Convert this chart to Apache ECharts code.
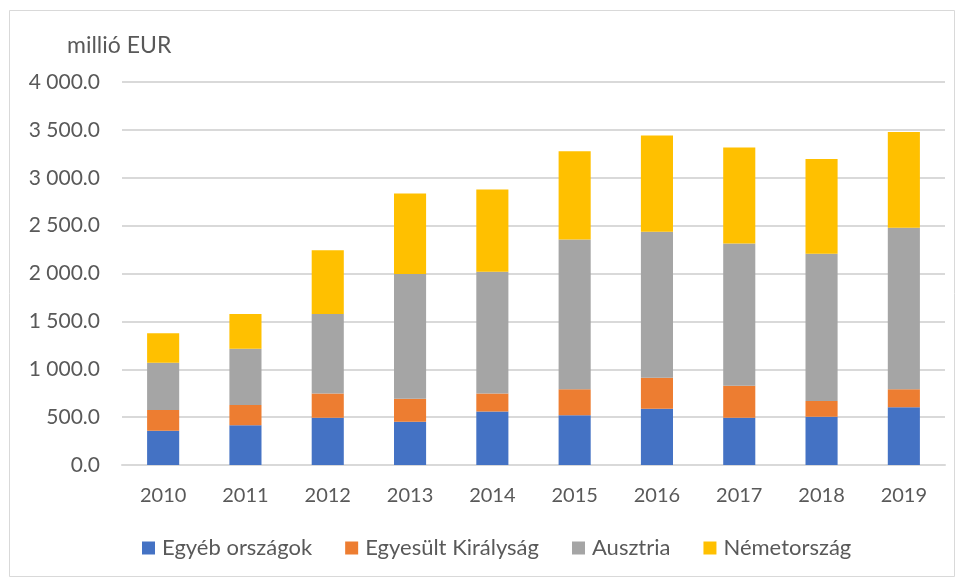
<!DOCTYPE html>
<html>
<head>
<meta charset="utf-8">
<script src="https://cdn.jsdelivr.net/npm/echarts@6/dist/echarts.min.js"></script>
<style>
  html, body { margin: 0; padding: 0; background: #fff; }
  #chart { width: 956px; height: 580px; }
</style>
</head>
<body>
<div id="chart"></div>
<script>
const years = ['2010', '2011', '2012', '2013', '2014', '2015', '2016', '2017', '2018', '2019'];

// millió EUR, stacked segments
const egyeb = [358, 414, 494, 452, 560, 519, 588, 494, 504, 602];
const egyesultKiralysag = [216, 212, 254, 240, 188, 271, 323, 334, 164, 188];
const ausztria = [494, 588, 828, 1302, 1270, 1566, 1524, 1486, 1538, 1687];
const nemetorszag = [307, 362, 668, 842, 860, 922, 1006, 1002, 991, 1002];

const seriesNames = ['Egyéb országok', 'Egyesült Királyság', 'Ausztria', 'Németország'];
const seriesColors = ['#4472c4', '#ed7d31', '#a5a5a5', '#ffc000'];
const seriesData = [egyeb, egyesultKiralysag, ausztria, nemetorszag];

const fontFamily = 'Lato, "Open Sans", sans-serif';
const textColor = '#595959';

/**
 * 4000 -> "4 000.0"
 * @param v
 */
function formatValue(v) {
    const parts = v.toFixed(1).split('.');
    return parts[0].replace(/\B(?=(\d{3})+(?!\d))/g, ' ') + '.' + parts[1];
}

const chart = echarts.init(document.getElementById('chart'));

chart.setOption({
    animation: false,
    backgroundColor: '#fff',
    textStyle: { fontFamily: fontFamily },
    graphic: [{
        type: 'rect',
        shape: { x: 9.5, y: 10.5, width: 945, height: 566 },
        style: { fill: 'none', stroke: '#d9d9d9', lineWidth: 1 },
        silent: true
    }],
    title: {
        text: 'millió EUR',
        left: 62,
        top: 29,
        textStyle: { fontFamily: fontFamily, fontSize: 23, fontWeight: 'normal', color: textColor }
    },
    legend: {
        bottom: 16,
        left: 137,
        itemWidth: 13,
        itemHeight: 13,
        itemGap: 33,
        icon: 'rect',
        textStyle: { fontFamily: fontFamily, fontSize: 22, color: textColor, padding: [0, 0, 0, 2] },
        data: seriesNames
    },
    grid: { left: 122, right: 11, top: 82, bottom: 115, containLabel: false },
    xAxis: {
        type: 'category',
        data: years,
        axisLine: { lineStyle: { color: '#d9d9d9', width: 2 } },
        axisTick: { show: false },
        axisLabel: { fontFamily: fontFamily, fontSize: 20, color: textColor, margin: 21 }
    },
    yAxis: {
        type: 'value',
        min: 0,
        max: 4000,
        interval: 500,
        axisLine: { show: false },
        axisTick: { show: false },
        splitLine: { lineStyle: { color: '#d9d9d9', width: 2 } },
        axisLabel: {
            fontFamily: fontFamily,
            fontSize: 21,
            color: textColor,
            margin: 22,
            formatter: formatValue
        }
    },
    series: seriesNames.map((name, i) => ({
        name: name,
        type: 'bar',
        stack: 'total',
        barWidth: '39%',
        itemStyle: { color: seriesColors[i] },
        data: seriesData[i]
    }))
});
</script>
</body>
</html>
